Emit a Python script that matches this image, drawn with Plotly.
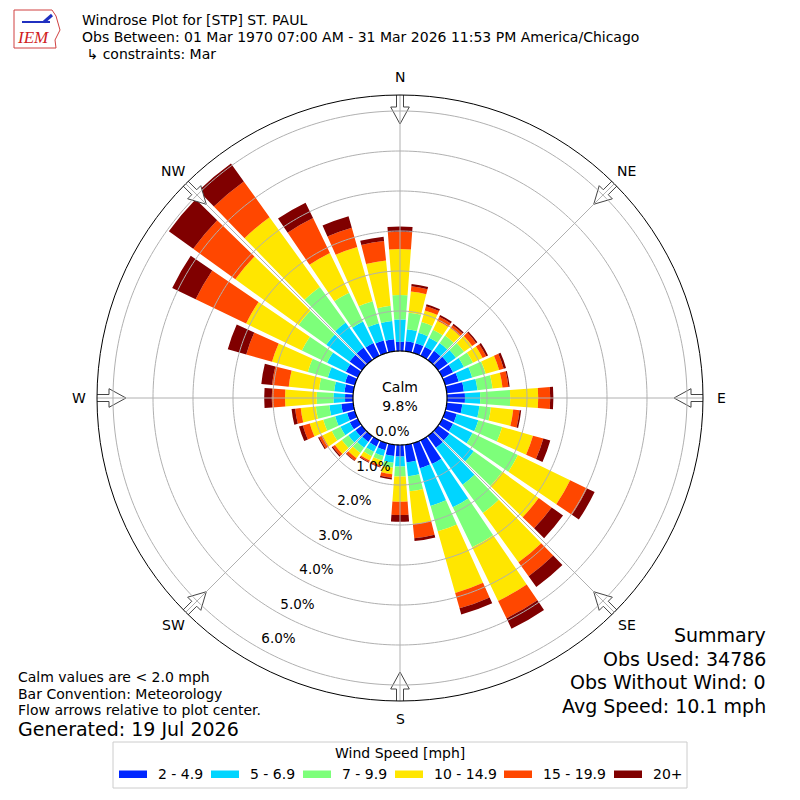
import math
import numpy as np
import plotly.graph_objects as go

# --- data (percent of obs, per 10 deg sector, per speed bin) ---
directions = list(range(0, 360, 10))
speed_bins = ["2 - 4.9", "5 - 6.9", "7 - 9.9", "10 - 14.9", "15 - 19.9", "20+"]
bin_colors = ["#0027ff", "#00d5ff", "#7dff7a", "#ffe600", "#ff4700", "#800000"]

pct_2_5 = [0.23, 0.25, 0.25, 0.25, 0.28, 0.30, 0.30, 0.35, 0.43, 0.45, 0.39, 0.30,
           0.30, 0.35, 0.36, 0.66, 0.65, 0.44, 0.29, 0.28, 0.18, 0.17, 0.18, 0.20,
           0.22, 0.20, 0.30, 0.20, 0.22, 0.25, 0.33, 0.38, 0.38, 0.35, 0.32, 0.30]
pct_5_7 = [0.56, 0.30, 0.27, 0.25, 0.24, 0.25, 0.30, 0.35, 0.34, 0.38, 0.43, 0.56,
           0.54, 0.75, 1.14, 1.20, 0.98, 0.35, 0.25, 0.17, 0.15, 0.15, 0.18, 0.22,
           0.26, 0.31, 0.30, 0.29, 0.26, 0.45, 0.52, 0.72, 0.77, 0.60, 0.45, 0.46]
pct_7_10 = [0.61, 0.42, 0.28, 0.22, 0.23, 0.25, 0.25, 0.35, 0.38, 0.75, 0.29, 0.62,
            1.26, 0.88, 0.87, 1.11, 0.66, 0.38, 0.25, 0.13, 0.12, 0.12, 0.16, 0.20,
            0.24, 0.31, 0.34, 0.42, 0.38, 0.52, 0.70, 0.85, 1.10, 0.80, 0.57, 0.38]
pct_10_15 = [1.15, 0.53, 0.30, 0.25, 0.23, 0.25, 0.27, 0.35, 0.25, 0.70, 0.56, 0.80,
             1.45, 1.12, 1.52, 1.49, 1.60, 0.83, 0.63, 0.16, 0.12, 0.12, 0.16, 0.21,
             0.26, 0.35, 0.38, 0.79, 0.76, 0.93, 1.55, 1.95, 2.15, 1.10, 1.41, 1.14]
pct_15_20 = [0.43, 0.13, 0.11, 0.11, 0.09, 0.12, 0.10, 0.12, 0.15, 0.30, 0.16, 0.27,
             0.47, 0.40, 0.43, 0.48, 0.40, 0.35, 0.33, 0.09, 0.04, 0.04, 0.07, 0.07,
             0.09, 0.18, 0.14, 0.33, 0.42, 0.67, 1.40, 1.30, 1.10, 0.97, 0.50, 0.49]
pct_20_up = [0.13, 0.06, 0.05, 0.05, 0.04, 0.04, 0.05, 0.06, 0.03, 0.08, 0.04, 0.18,
             0.21, 0.35, 0.33, 0.29, 0.16, 0.07, 0.17, 0.04, 0.02, 0.02, 0.02, 0.03,
             0.03, 0.10, 0.09, 0.19, 0.27, 0.48, 0.65, 0.75, 0.55, 0.43, 0.30, 0.11]
bin_values = [pct_2_5, pct_5_7, pct_7_10, pct_10_15, pct_15_20, pct_20_up]

radial_ticks = [0, 1, 2, 3, 4, 5, 6]
compass_angles = [0, 45, 90, 135, 180, 225, 270, 315]
compass_labels = ["N", "NE", "E", "SE", "S", "SW", "W", "NW"]
calm_pct = 9.8

title_lines = ["Windrose Plot for [STP] ST. PAUL",
               "Obs Between: 01 Mar 1970 07:00 AM - 31 Mar 2026 11:53 PM America/Chicago",
               " \u21b3 constraints: Mar"]
note_lines = ["Calm values are < 2.0 mph", "Bar Convention: Meteorology",
              "Flow arrows relative to plot center."]
generated = "Generated: 19 Jul 2026"
summary_lines = ["Summary", "Obs Used: 34786", "Obs Without Wind: 0", "Avg Speed: 10.1 mph"]
legend_title = "Wind Speed [mph]"

# --- geometry (pixels of the 800x800 screenshot) ---
W = H = 800
OFF = 8                      # page body margin pushes the figure 8px right/down
CX, CY, R_OUT = 400, 398, 303
HOLE_PX, PX_PER_PCT = 47, 40
R_MIN = -HOLE_PX / PX_PER_PCT
R_MAX = (R_OUT - HOLE_PX) / PX_PER_PCT
FONT = "DejaVu Sans"
GRID = "#b0b0b0"


def px(x):
    return (x - OFF) / W


def py(y):
    return 1 - (y - OFF) / H


def to_r(dist_px):
    return (dist_px - HOLE_PX) / PX_PER_PCT


def nolabel(**kw):
    return dict(showlegend=False, hoverinfo="skip", **kw)


fig = go.Figure()

# stacked bars
for name, color, vals in zip(speed_bins, bin_colors, bin_values):
    fig.add_trace(go.Barpolar(
        r=vals, theta=directions, width=8.4, name=name,
        marker=dict(color=color, line=dict(width=0)), showlegend=False,
        hoverinfo="skip"))

# flow arrows at the compass points (white block arrows pointing inward)
arrow_shape = [(304, -3.5), (291, -3.5), (291, -9.3), (274, 0), (291, 9.3),
               (291, 3.5), (304, 3.5), (304, -3.5)]
for a in compass_angles:
    ar, at = [], []
    for along, perp in arrow_shape:
        ar.append(to_r(math.hypot(along, perp)))
        at.append(a + math.degrees(math.atan2(perp, along)))
    fig.add_trace(go.Scatterpolar(r=ar, theta=at, mode="lines", fill="toself",
                                  fillcolor="white", line=dict(color="#444444", width=1),
                                  cliponaxis=False, **nolabel()))

# grid drawn over the bars, like the original
ring_theta = np.linspace(0, 360, 361)
for v in radial_ticks[1:]:
    fig.add_trace(go.Scatterpolar(r=[v] * len(ring_theta), theta=ring_theta, mode="lines",
                                  line=dict(color=GRID, width=1), **nolabel()))
for a in compass_angles:
    fig.add_trace(go.Scatterpolar(r=[0, R_MAX], theta=[a, a], mode="lines",
                                  line=dict(color=GRID, width=1), **nolabel()))

# calm hole
fig.add_trace(go.Scatterpolar(r=[0] * len(ring_theta), theta=ring_theta, mode="lines",
                              fill="toself", fillcolor="white",
                              line=dict(color="black", width=1.2), **nolabel()))
fig.add_trace(go.Scatterpolar(r=[R_MIN], theta=[0], mode="text",
                              text=[f"Calm<br>{calm_pct:.1f}%"],
                              textfont=dict(family=FONT, size=14, color="black"),
                              **nolabel()))

# radial labels, set along a line offset from the 209 deg spoke
lab_r, lab_t, lab_txt = [], [], []
for v in radial_ticks:
    along = 34 + 39.4 * v
    dist = math.hypot(along, 10)
    lab_r.append(to_r(dist))
    lab_t.append(208.8 - math.degrees(math.atan2(10, along)))
    lab_txt.append(f"{v:.1f}%")
fig.add_trace(go.Scatterpolar(r=lab_r, theta=lab_t, mode="text", text=lab_txt,
                              textfont=dict(family=FONT, size=13.5, color="black"),
                              cliponaxis=False, **nolabel()))

fig.update_layout(
    width=W, height=H,
    margin=dict(l=0, r=0, t=0, b=0),
    paper_bgcolor="white",
    font=dict(family=FONT, color="black"),
    polar=dict(
        domain=dict(x=[px(CX - R_OUT), px(CX + R_OUT)], y=[py(CY + R_OUT), py(CY - R_OUT)]),
        bgcolor="white",
        barmode="stack",
        radialaxis=dict(range=[R_MIN, R_MAX], showgrid=False, showline=False,
                        showticklabels=False, ticks=""),
        angularaxis=dict(rotation=90, direction="clockwise", showticklabels=False,
                         showgrid=False, showline=True, linecolor="black", linewidth=1,
                         ticks=""),
    ),
)

ann = []
# compass labels just outside the rim
for a, lab in zip(compass_angles, compass_labels):
    rad = math.radians(a)
    ann.append(dict(x=px(CX + 321 * math.sin(rad)), y=py(CY - 321 * math.cos(rad)),
                    text=lab, showarrow=False, xanchor="center", yanchor="middle",
                    font=dict(family=FONT, size=14, color="black")))
# title block
for i, t in enumerate(title_lines):
    ann.append(dict(x=px(80), y=py(20 + 17 * i), text=t, showarrow=False,
                    xanchor="left", yanchor="middle",
                    font=dict(family=FONT, size=14, color="black")))
# IEM logo (rough)
ann.append(dict(x=px(33), y=py(38), text="<i>IEM</i>", showarrow=False,
                xanchor="center", yanchor="middle",
                font=dict(family="Liberation Serif", size=17, color="#d02020")))
# notes, bottom left
for i, t in enumerate(note_lines):
    ann.append(dict(x=px(16), y=py(677 + 16.5 * i), text=t, showarrow=False,
                    xanchor="left", yanchor="middle",
                    font=dict(family=FONT, size=14, color="black")))
ann.append(dict(x=px(16), y=py(729), text=generated, showarrow=False,
                xanchor="left", yanchor="middle",
                font=dict(family=FONT, size=19, color="black")))
# summary, bottom right
for i, t in enumerate(summary_lines):
    ann.append(dict(x=px(768), y=py(635 + 23.5 * i), text=t, showarrow=False,
                    xanchor="right", yanchor="middle",
                    font=dict(family=FONT, size=19, color="black")))

# legend box, drawn by hand to get the wide swatches
shapes = [dict(type="rect", xref="paper", yref="paper",
               x0=px(113), x1=px(687), y0=py(788), y1=py(742),
               line=dict(color="#cccccc", width=1), fillcolor="white")]
ann.append(dict(x=px(400), y=py(753), text=legend_title, showarrow=False,
                xanchor="center", yanchor="middle",
                font=dict(family=FONT, size=14, color="black")))
swatch_x = [119, 211, 303, 395, 504, 614]
for sx, name, color in zip(swatch_x, speed_bins, bin_colors):
    shapes.append(dict(type="rect", xref="paper", yref="paper",
                       x0=px(sx), x1=px(sx + 28), y0=py(778), y1=py(770.5),
                       line=dict(width=0), fillcolor=color))
    ann.append(dict(x=px(sx + 37), y=py(774), text=name, showarrow=False,
                    xanchor="left", yanchor="middle",
                    font=dict(family=FONT, size=14, color="black")))

# logo outline + barb
shapes.append(dict(type="path", xref="paper", yref="paper",
                   path="M {} {} L {} {} L {} {} L {} {} L {} {} L {} {} L {} {} Z".format(
                       px(14), py(10), px(52), py(10), px(56), py(16), px(60), py(30),
                       px(55), py(40), px(56), py(48), px(14), py(48)),
                   line=dict(color="#d04040", width=1)))
shapes.append(dict(type="line", xref="paper", yref="paper",
                   x0=px(22), x1=px(50), y0=py(22), y1=py(22),
                   line=dict(color="#2030c0", width=2)))
shapes.append(dict(type="line", xref="paper", yref="paper",
                   x0=px(44), x1=px(52), y0=py(22), y1=py(15),
                   line=dict(color="#2030c0", width=3)))

fig.update_layout(annotations=ann, shapes=shapes)

fig.write_html("out.html")
